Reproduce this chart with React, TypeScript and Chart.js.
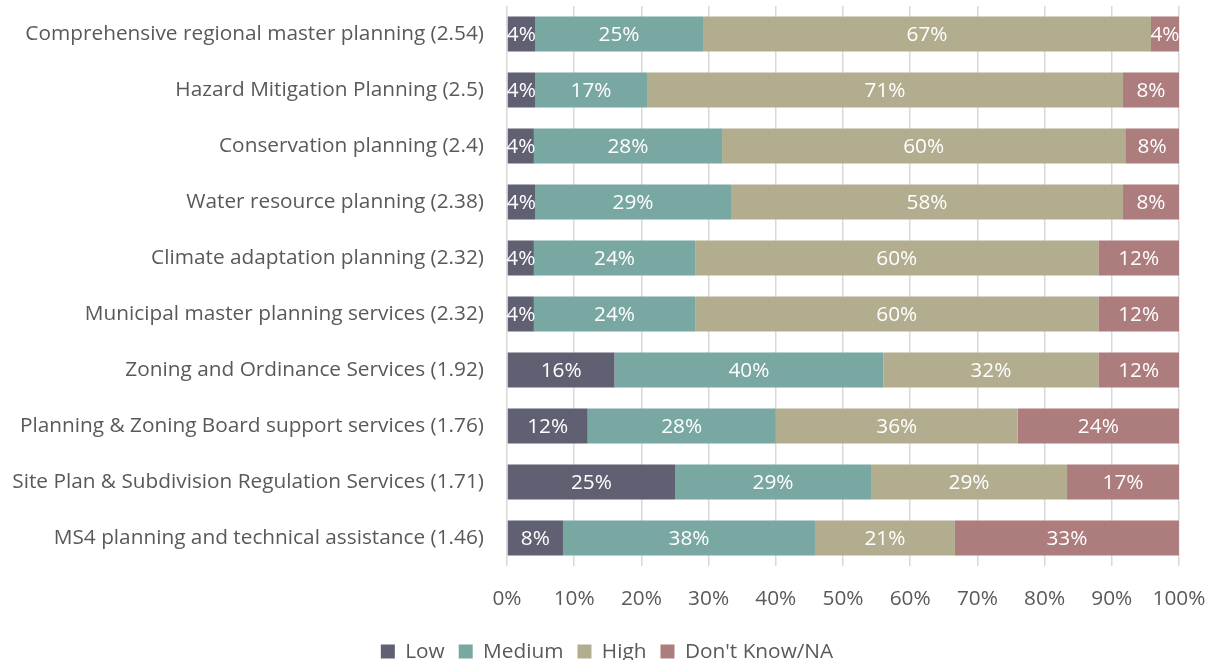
import React, { useEffect, useRef } from "react";
import { Chart, registerables } from "chart.js";

Chart.register(...registerables);

const categories = [
  "Comprehensive regional master planning (2.54)",
  "Hazard Mitigation Planning (2.5)",
  "Conservation planning (2.4)",
  "Water resource planning (2.38)",
  "Climate adaptation planning (2.32)",
  "Municipal master planning services (2.32)",
  "Zoning and Ordinance Services (1.92)",
  "Planning & Zoning Board support services (1.76)",
  "Site Plan & Subdivision Regulation Services (1.71)",
  "MS4 planning and technical assistance (1.46)",
];

const low = [4.17, 4.17, 4, 4.17, 4, 4, 16, 12, 25, 8.33];
const medium = [25, 16.67, 28, 29.17, 24, 24, 40, 28, 29.17, 37.5];
const high = [66.66, 70.83, 60, 58.33, 60, 60, 32, 36, 29.17, 20.83];
const dontKnow = [4.17, 8.33, 8, 8.33, 12, 12, 12, 24, 16.67, 33.33];

const seriesNames = ["Low", "Medium", "High", "Don't Know/NA"];
const seriesColors = ["#5f6172", "#79a7a2", "#b1ad8e", "#ad7c7d"];

const FONT = "'Open Sans', sans-serif";
const FS = 20.8;

const dataLabelPlugin = {
  id: "dataLabels",
  afterDatasetsDraw(chart: any) {
    const ctx = chart.ctx;
    ctx.save();
    ctx.fillStyle = "#ffffff";
    ctx.font = `${FS}px ${FONT}`;
    ctx.textAlign = "center";
    ctx.textBaseline = "middle";
    chart.data.datasets.forEach((ds: any, i: number) => {
      const meta = chart.getDatasetMeta(i);
      meta.data.forEach((bar: any, j: number) => {
        const v = ds.data[j];
        const cx = (bar.x + bar.base) / 2;
        ctx.fillText(Math.round(v) + "%", cx, bar.y + 1);
      });
    });
    ctx.restore();
  },
};

export default function App() {
  const ref = useRef<HTMLCanvasElement>(null);
  useEffect(() => {
    document.body.style.margin = "0";
    const chart = new Chart(ref.current as HTMLCanvasElement, {
      type: "bar",
      data: {
        labels: categories,
        datasets: [low, medium, high, dontKnow].map((d, i) => ({
          label: seriesNames[i],
          data: d,
          backgroundColor: seriesColors[i],
          borderWidth: 0,
          categoryPercentage: 1,
          barPercentage: 0.625,
        })),
      },
      options: {
        indexAxis: "y",
        responsive: false,
        animation: false,
        layout: { padding: { top: 6, right: 0, bottom: -12, left: 0 } },
        scales: {
          x: {
            stacked: true,
            min: 0,
            max: 100,
            border: { display: false },
            grid: { color: "#d9d9d9", lineWidth: 1.5, drawTicks: false },
            ticks: {
              stepSize: 10,
              padding: 21,
              color: "#595959",
              font: { family: FONT, size: FS },
              callback: (v: any) => v + "%",
            },
            afterFit: (s: any) => {
              s.height = 61.2;
              s.paddingLeft = 0;
              s.paddingRight = 35;
            },
          },
          y: {
            stacked: true,
            border: { display: false },
            grid: { display: false, drawTicks: false },
            ticks: {
              padding: 23,
              color: "#595959",
              font: { family: FONT, size: FS },
            },
            afterFit: (s: any) => {
              s.width = 507;
              s.paddingTop = 0;
              s.paddingBottom = 0;
            },
          },
        },
        plugins: {
          legend: {
            position: "bottom",
            labels: {
              boxWidth: 14,
              boxHeight: 14,
              padding: 14,
              color: "#595959",
              font: { family: FONT, size: FS },
            },
          },
          tooltip: { enabled: false },
        },
      },
      plugins: [dataLabelPlugin],
    } as any);
    return () => chart.destroy();
  }, []);
  return (
    <div style={{ width: 1214, height: 660 }}>
      <canvas ref={ref} width={1214} height={660} style={{ display: "block" }} />
    </div>
  );
}
